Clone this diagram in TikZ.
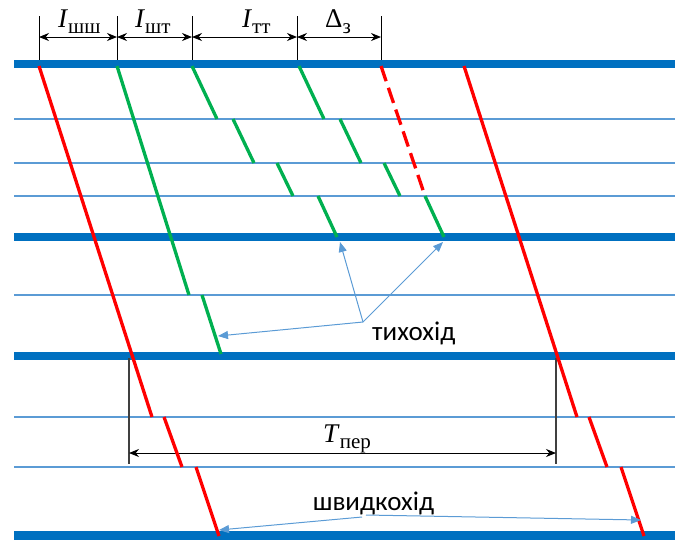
\documentclass[tikz,border=0pt]{standalone}
\usepackage{fontspec}
\setmainfont{Liberation Serif}
\newfontfamily\notefont{Carlito}
\usetikzlibrary{arrows.meta}

\definecolor{bandblue}{RGB}{0,112,192}
\definecolor{lightblue}{RGB}{91,155,213}
\definecolor{trackred}{RGB}{255,0,0}
\definecolor{trackgreen}{RGB}{0,176,80}

% symbol with a lowered upright subscript
\newcommand{\seglabel}[2]{{\fontsize{27}{27}\selectfont #1}\raisebox{-6pt}{\fontsize{21}{21}\selectfont #2}}

\tikzset{
  station/.style={bandblue, line width=8.5pt},
  blockline/.style={lightblue, line width=2pt},
  fasttrain/.style={trackred, line width=3.3pt},
  slowtrain/.style={trackgreen, line width=3.3pt},
  tick/.style={black, line width=0.9pt},
  dimline/.style={black, line width=1pt, {Stealth[length=10pt,width=8pt]}-{Stealth[length=10pt,width=8pt]}},
  callout/.style={lightblue, line width=1pt, -{Triangle[length=10pt,width=8pt]}},
  dimtext/.style={inner sep=0pt, anchor=base west},
  notetext/.style={inner sep=0pt, font=\notefont\fontsize{27}{27}\selectfont}
}

\begin{document}
\begin{tikzpicture}[x=1pt,y=-1pt]
\useasboundingbox (0,0) rectangle (675,539);

% dimension ticks above the first station
\foreach \n/\x in {a/39,b/117,c/192,d/297,e/381}{
  \coordinate (t\n) at (\x,16);
  \coordinate (b\n) at (\x,60);
  \coordinate (m\n) at (\x,37);
  \draw[tick] (t\n) -- (b\n);
}
\draw[dimline] (ma) -- (mb);
\draw[dimline] (mb) -- (mc);
\draw[dimline] (mc) -- (md);
\draw[dimline] (md) -- (me);
\node[dimtext] (lshsh) at (58,27) {\seglabel{\textit{I}}{шш}};
\node[dimtext] (lsht) at (135,27) {\seglabel{\textit{I}}{шт}};
\node[dimtext] (ltt) at (242,27) {\seglabel{\textit{I}}{тт}};
\node[dimtext] (ldz) at (325,27) {\seglabel{Δ}{з}};

% stations (thick) and block sections (thin)
\foreach \y in {119,163,196,295,417,467}
  \draw[blockline] (14,\y) -- (675,\y);
\foreach \y in {64,237,356,535.5}
  \draw[station] (14,\y) -- (675,\y);

% period dimension
\coordinate (pl1) at (129,358); \coordinate (pl2) at (129,464);
\coordinate (pr1) at (556,358); \coordinate (pr2) at (556,464);
\coordinate (pla) at (129,453); \coordinate (pra) at (556,453);
\draw[black!75, line width=1.2pt] (pl1) -- (pl2);
\draw[black!75, line width=1.2pt] (pr1) -- (pr2);
\draw[dimline] (pla) -- (pra);
\node[dimtext] (lper) at (323,442) {\seglabel{\textit{T}}{пер}};

% fast trains
\foreach \dx in {0,425}{
  \draw[fasttrain] (39+\dx,66) -- (152+\dx,417);
  \draw[fasttrain] (164+\dx,417) -- (182+\dx,467);
  \draw[fasttrain] (196+\dx,467) -- (219+\dx,536);
}
\draw[fasttrain, dash pattern=on 16pt off 7pt] (381,66) -- (425,196);

% slow trains
\draw[slowtrain] (117,66) -- (189,295);
\draw[slowtrain] (202,295) -- (221,354);
\foreach \dx in {0,107}{
  \draw[slowtrain] (192+\dx,66) -- (217+\dx,119);
  \draw[slowtrain] (233+\dx,119) -- (254+\dx,163);
  \draw[slowtrain] (277+\dx,163) -- (293+\dx,196);
  \draw[slowtrain] (318+\dx,196) -- (337+\dx,237);
}

% callouts
\coordinate (slowsrc) at (363,322);
\coordinate (slowa) at (218,336);
\coordinate (slowb) at (340,242);
\coordinate (slowc) at (443,242);
\draw[callout] (slowsrc) -- (slowa);
\draw[callout] (slowsrc) -- (slowb);
\draw[callout] (slowsrc) -- (slowc);
\node[notetext, anchor=base west] (slowlbl) at (372,340) {тихохід};

\coordinate (fastsrcl) at (362,517);
\coordinate (fastsrcr) at (366,515);
\coordinate (fasta) at (219,530);
\coordinate (fastb) at (641,520);
\draw[callout] (fastsrcl) -- (fasta);
\draw[callout] (fastsrcr) -- (fastb);
\node[notetext, anchor=base] (fastlbl) at (373.5,510) {швидкохід};
\end{tikzpicture}
\end{document}
